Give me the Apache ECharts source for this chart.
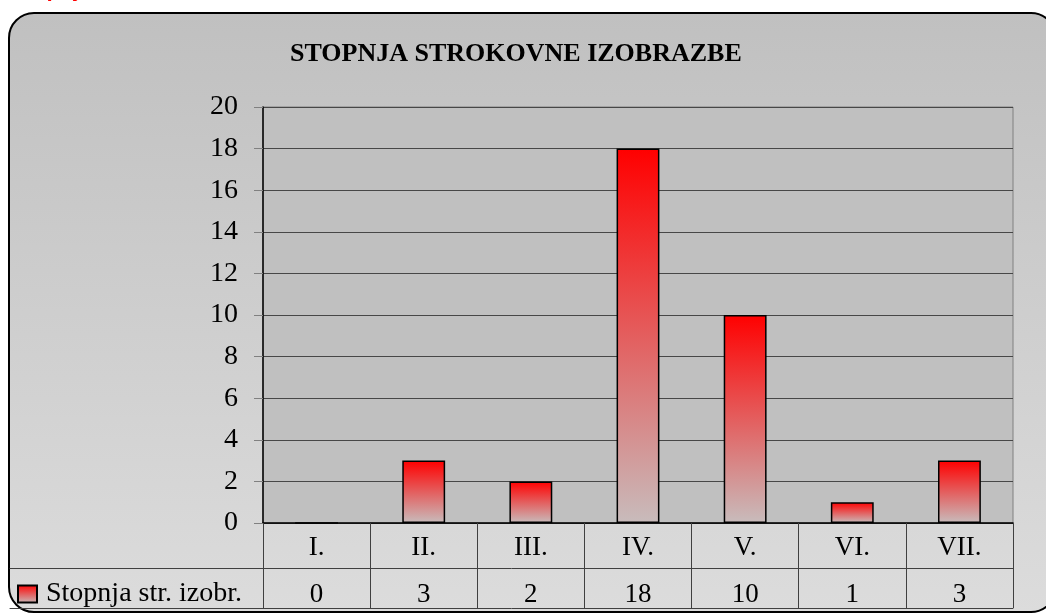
<!DOCTYPE html>
<html>
<head>
<meta charset="utf-8">
<title>Stopnja strokovne izobrazbe</title>
<script src="https://cdn.jsdelivr.net/npm/echarts@6/dist/echarts.min.js"></script>
<style>
  html, body { margin: 0; padding: 0; background: #fff; }
  #chart { width: 1046px; height: 616px; }
</style>
</head>
<body>
<div id="chart"></div>
<script>
// data
const categories = ["I.", "II.", "III.", "IV.", "V.", "VI.", "VII."];
const values = [0, 3, 2, 18, 10, 1, 3];
const seriesName = "Stopnja str. izobr.";
const chartTitle = "STOPNJA STROKOVNE IZOBRAZBE";
const pageHeading = "Stopnja";

const serif = "'Liberation Serif', 'Times New Roman', serif";

const chart = echarts.init(document.getElementById("chart"));

const barFill = new echarts.graphic.LinearGradient(0, 0, 0, 1, [
  { offset: 0, color: "#ff0000" },
  { offset: 1, color: "#c8bcbc" }
]);

// table rule lines (grid 1 spans the full table width)
const tableRule = (position) => ({
  type: "value", gridIndex: 1, min: 0, max: 1, position: position,
  axisLine: { show: true, onZero: false, lineStyle: { color: "#404040" } },
  axisTick: { show: false }, axisLabel: { show: false }, splitLine: { show: false }
});

chart.setOption({
  animation: false,
  title: {
    text: chartTitle,
    left: 285,
    top: 36,
    textStyle: { fontFamily: serif, fontSize: 26, fontWeight: "bold", color: "#000" }
  },
  // panel + cut-off heading above it
  graphic: [
    {
      type: "rect",
      z: -10,
      silent: true,
      shape: { x: 9, y: 13, width: 1047, height: 599, r: 25 },
      style: {
        fill: new echarts.graphic.LinearGradient(0, 0, 0, 1, [
          { offset: 0, color: "#c0c0c0" },
          { offset: 1, color: "#dcdcdc" }
        ]),
        stroke: "#000",
        lineWidth: 2
      }
    },
    {
      type: "text",
      left: 13,
      top: -21,
      silent: true,
      style: {
        text: pageHeading,
        fill: "#ff0000",
        font: "italic bold 22px Arial, 'Liberation Sans', sans-serif"
      }
    }
  ],
  legend: {
    data: [seriesName],
    left: 17,
    top: 580,
    padding: 0,
    itemWidth: 19,
    itemHeight: 17,
    icon: "rect",
    textStyle: { fontFamily: serif, fontSize: 28, color: "#000", padding: [0, 0, 0, 4] }
  },
  grid: [
    { left: 263, right: 33, top: 107, bottom: 93, show: true, backgroundColor: "#c0c0c0", borderColor: "#808080", borderWidth: 1 },
    { left: 10, right: 33, top: 568, height: 40, show: false }
  ],
  xAxis: [
    {
      type: "category",
      gridIndex: 0,
      data: categories,
      axisLine: { lineStyle: { color: "#000", width: 1.5 } },
      axisTick: { show: true, alignWithLabel: false, length: 85, lineStyle: { color: "#404040" } },
      axisLabel: { fontFamily: serif, fontSize: 27, color: "#000", margin: 11 }
    },
    {
      // value row of the data table
      type: "category",
      gridIndex: 0,
      position: "bottom",
      offset: 45,
      data: values.map(String),
      axisLine: { show: false },
      axisTick: { show: false },
      axisLabel: { fontFamily: serif, fontSize: 27, color: "#000", margin: 13 }
    },
    tableRule("top"),
    tableRule("bottom")
  ],
  yAxis: [
    {
      type: "value",
      gridIndex: 0,
      min: 0,
      max: 20,
      interval: 2,
      axisLine: { show: true, lineStyle: { color: "#000", width: 1.5 } },
      axisTick: { show: true, length: 9, lineStyle: { color: "#808080" } },
      axisLabel: { fontFamily: serif, fontSize: 28, color: "#000", margin: 25 },
      splitLine: { lineStyle: { color: "#474747" } }
    },
    { type: "value", gridIndex: 1, min: 0, max: 1, show: false }
  ],
  series: [
    {
      name: seriesName,
      type: "bar",
      xAxisIndex: 0,
      yAxisIndex: 0,
      barWidth: "40%",
      data: values,
      itemStyle: { color: barFill, borderColor: "#000", borderWidth: 1.5 }
    }
  ]
});
</script>
</body>
</html>
